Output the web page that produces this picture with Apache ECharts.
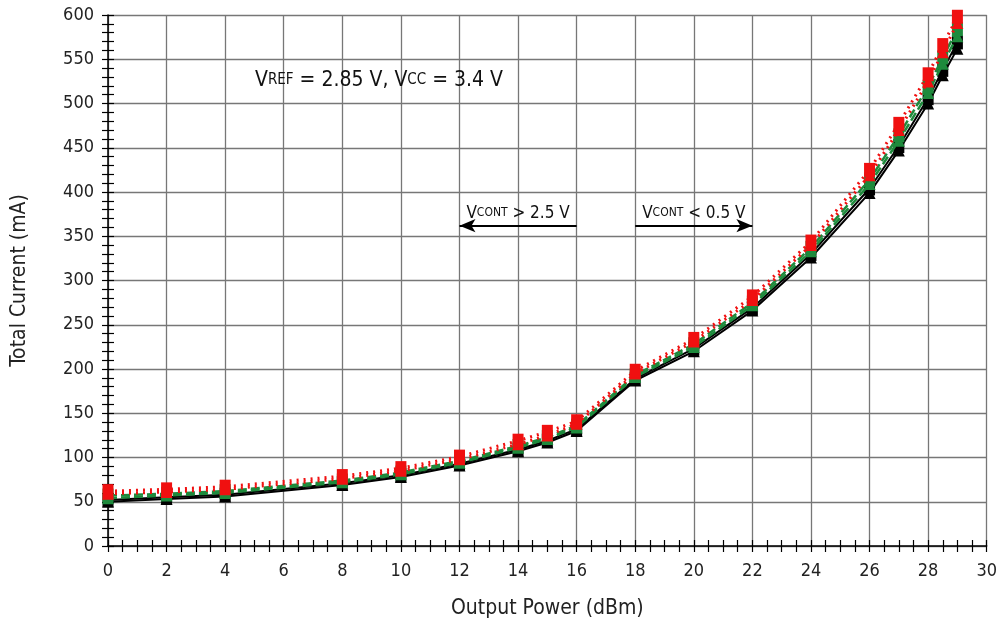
<!DOCTYPE html>
<html><head><meta charset="utf-8">
<script src="https://cdn.jsdelivr.net/npm/echarts@6/dist/echarts.min.js"></script>
<style>html,body{margin:0;padding:0;background:#fff}#c{width:1000px;height:629px}</style>
</head><body><div id="c"></div>
<script>
const FONT = "'Liberation Sans Narrow', 'DejaVu Sans Condensed', sans-serif";
const xPower = [0, 2, 4, 8, 10, 12, 14, 15, 16, 18, 20, 22, 24, 26, 27, 28, 28.5, 29];
const blackTri = [50, 53, 56, 69, 78, 91, 107, 117, 130, 187, 220, 266, 326, 399, 447, 500, 532, 562];
const blackSq  = [52, 55, 58, 71, 80, 93, 109, 119, 132, 189, 223, 269, 330, 404, 452, 506, 538, 569];
const greenTri = [54, 57, 60, 72, 81, 94, 111, 121, 134, 191, 225, 272, 333, 409, 458, 512, 545, 576];
const greenSq  = [57, 59, 62, 74, 83, 96, 113, 123, 136, 193, 228, 275, 337, 414, 464, 519, 552, 584];
const redTri   = [59, 61, 64, 76, 85, 98, 115, 125, 138, 195, 231, 278, 340, 419, 470, 525, 558, 591];
const redSq    = [62, 64, 67, 79, 88, 101, 119, 129, 141, 198, 234, 282, 344, 425, 477, 533, 566, 598];
const arrowY = 362;
const leftArrow = [[12, arrowY], [16, arrowY]];
const rightArrow = [[18, arrowY], [22, arrowY]];

const pair = arr => xPower.map((x, i) => [x, arr[i]]);
function mk(name, data, color, type, symbol, width, z) {
  return { name, type: 'line', data: pair(data), z,
    lineStyle: { color, type, width }, itemStyle: { color },
    symbol, symbolSize: symbol === 'rect' ? [11, 14] : 12, animation: false };
}
const axisLbl = { color: '#222', fontFamily: FONT, fontSize: 18 };
const series = [
  mk('bt', blackTri, '#000', 'solid', 'triangle', 2, 2),
  mk('bs', blackSq, '#000', 'solid', 'rect', 2, 2),
  mk('gt', greenTri, '#1e8a3c', [9, 4], 'triangle', 2.5, 3),
  mk('gs', greenSq, '#1e8a3c', [9, 4], 'rect', 2.5, 3),
  mk('rt', redTri, '#f01010', [2, 5], 'triangle', 3, 4),
  mk('rs', redSq, '#f01010', [2, 5], 'rect', 3, 4)
];
const lblRich = {
  b: { fontFamily: FONT, fontSize: 17, color: '#111' },
  s: { fontFamily: FONT, fontSize: 12, color: '#111' }
};
series.push({
  type: 'line', data: [], z: 5, silent: true,
  markLine: { silent: true, animation: false,
    lineStyle: { color: '#000', type: 'solid', width: 2 },
    symbolSize: [10, 16],
    data: [
      [{ coord: leftArrow[0], symbol: 'arrow' }, { coord: leftArrow[1], symbol: 'none' }],
      [{ coord: rightArrow[0], symbol: 'none' }, { coord: rightArrow[1], symbol: 'arrow' }]
    ],
    label: { show: true, position: 'insideMiddleTop', distance: 4,
      formatter: p => p.dataIndex === 0 ? '{b|V}{s|CONT}{b| > 2.5 V}' : '{b|V}{s|CONT}{b| < 0.5 V}',
      rich: lblRich }
  }
});
const chart = echarts.init(document.getElementById('c'));
chart.setOption({
  backgroundColor: '#fff',
  animation: false,
  grid: { left: 108, right: 12, top: 15, bottom: 83, containLabel: false },
  xAxis: [{
    type: 'value', min: 0, max: 30, interval: 2,
    name: 'Output Power (dBm)', nameLocation: 'middle', nameGap: 52,
    nameTextStyle: { fontFamily: FONT, fontSize: 21, color: '#222' },
    axisLine: { lineStyle: { color: '#000', width: 1.5 } },
    axisTick: { show: true, length: 6, lineStyle: { color: '#000', width: 1.2 } },
    minorTick: { show: true, splitNumber: 4, length: 6, lineStyle: { color: '#000', width: 1.2 } },
    axisLabel: Object.assign({ margin: 16 }, axisLbl),
    splitLine: { show: true, lineStyle: { color: '#777', width: 1.3 } }
  }, {
    type: 'value', min: 0, max: 30, interval: 2, position: 'bottom',
    axisLine: { show: false },
    axisTick: { show: true, inside: true, length: 6, lineStyle: { color: '#000', width: 1.2 } },
    minorTick: { show: true, splitNumber: 4, length: 6, lineStyle: { color: '#000', width: 1.2 } },
    axisLabel: { show: false }, splitLine: { show: false }
  }],
  yAxis: [{
    type: 'value', min: 0, max: 600, interval: 50,
    name: 'Total Current (mA)', nameLocation: 'middle', nameGap: 78,
    nameTextStyle: { fontFamily: FONT, fontSize: 21, color: '#222' },
    axisLine: { show: true, lineStyle: { color: '#000', width: 1.5 } },
    axisTick: { show: true, length: 6, lineStyle: { color: '#000', width: 1.2 } },
    minorTick: { show: true, splitNumber: 5, length: 6, lineStyle: { color: '#000', width: 1.2 } },
    axisLabel: Object.assign({ margin: 14 }, axisLbl),
    splitLine: { show: true, lineStyle: { color: '#777', width: 1.3 } }
  }, {
    type: 'value', min: 0, max: 600, interval: 50, position: 'left',
    axisLine: { show: false },
    axisTick: { show: true, inside: true, length: 6, lineStyle: { color: '#000', width: 1.2 } },
    minorTick: { show: true, splitNumber: 5, length: 6, lineStyle: { color: '#000', width: 1.2 } },
    axisLabel: { show: false }, splitLine: { show: false }
  }],
  graphic: [{
    type: 'text', left: 255, top: 70, z: 10,
    style: {
      text: '{b|V}{s|REF}{b| = 2.85 V, V}{s|CC}{b| = 3.4 V}',
      rich: {
        b: { fontFamily: FONT, fontSize: 21, fill: '#111' },
        s: { fontFamily: FONT, fontSize: 15, fill: '#111' }
      }
    }
  }],
  series
});
</script></body></html>
